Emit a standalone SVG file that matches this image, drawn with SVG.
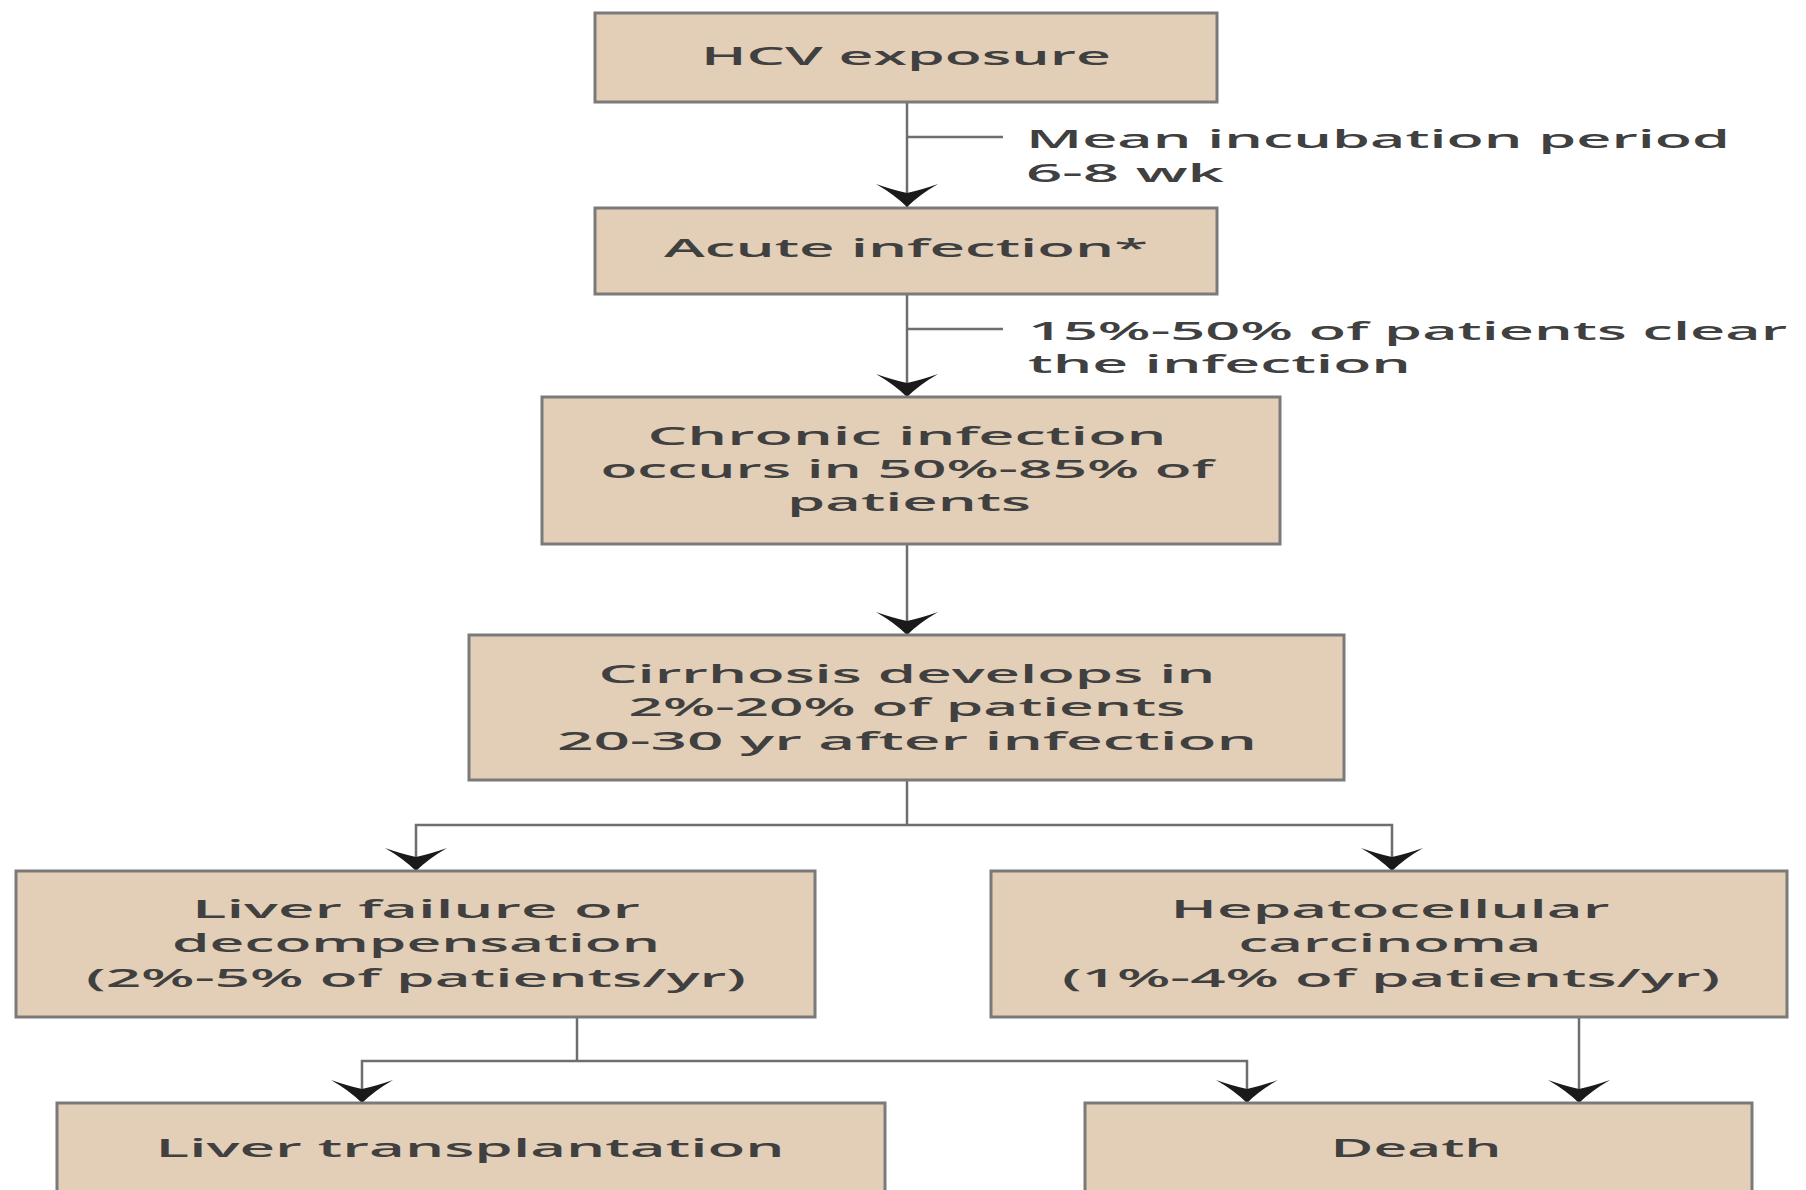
<svg xmlns="http://www.w3.org/2000/svg" width="1806" height="1190" viewBox="0 0 1806 1190">
<style>
.box{fill:#e3cfb7;stroke:#7a7a7a;stroke-width:3}
.t{font-family:"Open Sans","DejaVu Sans",sans-serif;font-size:25px;font-weight:600;fill:#404040}
.c{text-anchor:middle}
.ln{fill:none;stroke:#6e6e6e;stroke-width:2.5}
</style>
<defs>
<marker id="ah" markerUnits="userSpaceOnUse" orient="auto" refX="0" refY="0" markerWidth="30" markerHeight="70" overflow="visible">
<path d="M0,0 Q-12,-12 -23,-31 Q-17,-14 -14,0 Q-17,14 -23,31 Q-12,12 0,0 Z" fill="#1a1a1a"/>
</marker>
</defs>
<rect width="1806" height="1190" fill="#ffffff"/>
<g id="connectors">
<path class="ln" d="M907,102 V207" marker-end="url(#ah)"/>
<path class="ln" d="M907,137 H1003"/>
<path class="ln" d="M907,294 V397" marker-end="url(#ah)"/>
<path class="ln" d="M907,329 H1003"/>
<path class="ln" d="M907,545 V635" marker-end="url(#ah)"/>
<path class="ln" d="M907,781 V825"/>
<path class="ln" d="M907,825 H416 V871" marker-end="url(#ah)"/>
<path class="ln" d="M907,825 H1392 V871" marker-end="url(#ah)"/>
<path class="ln" d="M577,1017 V1061"/>
<path class="ln" d="M577,1061 H362 V1103" marker-end="url(#ah)"/>
<path class="ln" d="M577,1061 H1247 V1103" marker-end="url(#ah)"/>
<path class="ln" d="M1579,1017 V1103" marker-end="url(#ah)"/>
</g>
<g id="hcv">
<rect class="box" x="595" y="13" width="622" height="89"/>
<text class="t c" x="906" y="65" textLength="410" lengthAdjust="spacingAndGlyphs">HCV exposure</text>
</g>
<g id="label-incubation">
<text class="t" x="1026" y="148" textLength="704" lengthAdjust="spacingAndGlyphs">Mean incubation period</text>
<text class="t" x="1026" y="182" textLength="198" lengthAdjust="spacingAndGlyphs">6-8 wk</text>
</g>
<g id="acute">
<rect class="box" x="595" y="208" width="622" height="86"/>
<text class="t c" x="906" y="257" textLength="484" lengthAdjust="spacingAndGlyphs">Acute infection*</text>
</g>
<g id="label-clear">
<text class="t" x="1028" y="340" textLength="759" lengthAdjust="spacingAndGlyphs">15%-50% of patients clear</text>
<text class="t" x="1028" y="373" textLength="383" lengthAdjust="spacingAndGlyphs">the infection</text>
</g>
<g id="chronic">
<rect class="box" x="542" y="397" width="738" height="147"/>
<text class="t c" x="907" y="445" textLength="519" lengthAdjust="spacingAndGlyphs">Chronic infection</text>
<text class="t c" x="907" y="478" textLength="613" lengthAdjust="spacingAndGlyphs">occurs in 50%-85% of</text>
<text class="t c" x="909" y="511" textLength="244" lengthAdjust="spacingAndGlyphs">patients</text>
</g>
<g id="cirrhosis">
<rect class="box" x="469" y="635" width="875" height="145"/>
<text class="t c" x="907" y="683" textLength="617" lengthAdjust="spacingAndGlyphs">Cirrhosis develops in</text>
<text class="t c" x="907" y="716" textLength="557" lengthAdjust="spacingAndGlyphs">2%-20% of patients</text>
<text class="t c" x="907" y="750" textLength="700" lengthAdjust="spacingAndGlyphs">20-30 yr after infection</text>
</g>
<g id="liver-failure">
<rect class="box" x="16" y="871" width="799" height="146"/>
<text class="t c" x="416" y="918" textLength="448" lengthAdjust="spacingAndGlyphs">Liver failure or</text>
<text class="t c" x="416" y="952" textLength="488" lengthAdjust="spacingAndGlyphs">decompensation</text>
<text class="t c" x="416" y="987" textLength="660" lengthAdjust="spacingAndGlyphs">(2%-5% of patients/yr)</text>
</g>
<g id="hcc">
<rect class="box" x="991" y="871" width="796" height="146"/>
<text class="t c" x="1390" y="918" textLength="439" lengthAdjust="spacingAndGlyphs">Hepatocellular</text>
<text class="t c" x="1390" y="952" textLength="303" lengthAdjust="spacingAndGlyphs">carcinoma</text>
<text class="t c" x="1391" y="987" textLength="658" lengthAdjust="spacingAndGlyphs">(1%-4% of patients/yr)</text>
</g>
<g id="transplant">
<rect class="box" x="57" y="1103" width="828" height="110"/>
<text class="t c" x="470" y="1157" textLength="629" lengthAdjust="spacingAndGlyphs">Liver transplantation</text>
</g>
<g id="death">
<rect class="box" x="1085" y="1103" width="667" height="110"/>
<text class="t c" x="1416" y="1157" textLength="171" lengthAdjust="spacingAndGlyphs">Death</text>
</g>
</svg>
